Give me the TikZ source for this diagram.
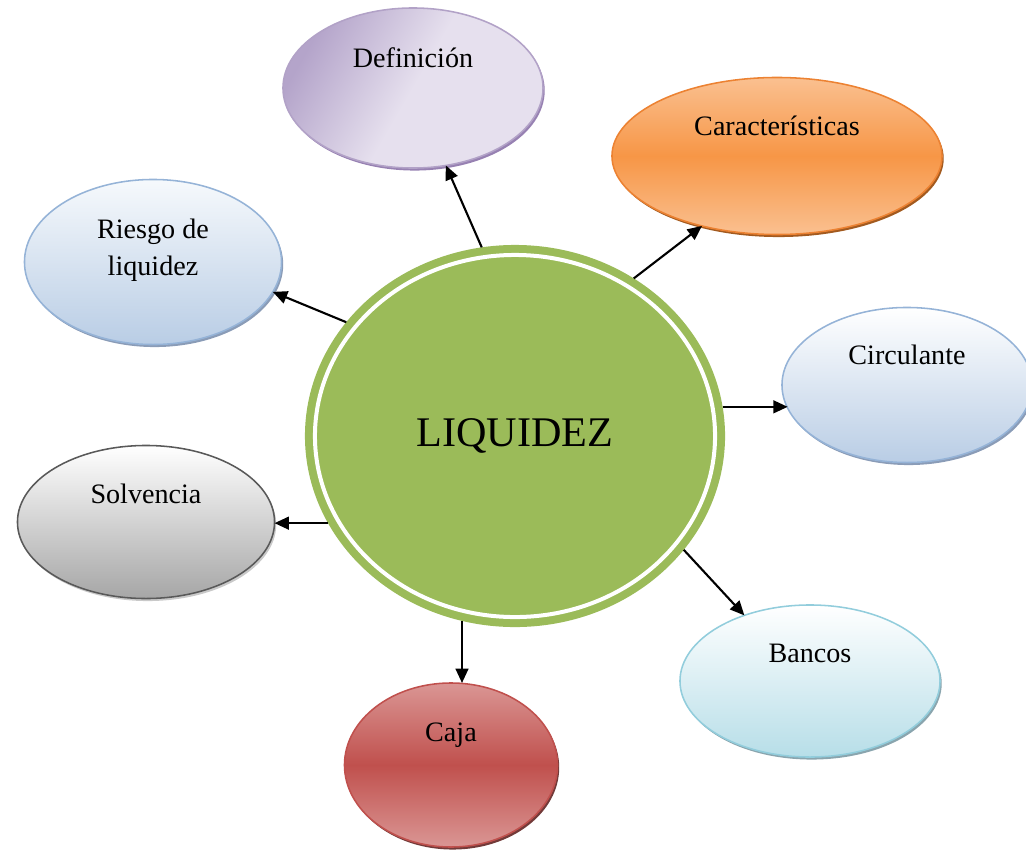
\documentclass[tikz,border=0pt]{standalone}
\usepackage{fontspec}
\setmainfont{Liberation Serif}
\usetikzlibrary{shapes.geometric,shadows,arrows.meta}
\definecolor{liqgreen}{RGB}{155,187,89}
\definecolor{defline}{RGB}{178,162,199}
\definecolor{defdark}{RGB}{180,164,202}
\definecolor{deflight}{RGB}{230,224,238}
\definecolor{defshadow}{RGB}{140,115,170}
\definecolor{carline}{RGB}{236,130,50}
\definecolor{cartop}{RGB}{250,192,144}
\definecolor{carmid}{RGB}{247,150,70}
\definecolor{carshadow}{RGB}{152,72,7}
\definecolor{blueline}{RGB}{149,179,215}
\definecolor{bluetop}{RGB}{246,249,252}
\definecolor{bluebottom}{RGB}{185,205,229}
\definecolor{blueshadow}{RGB}{125,145,175}
\definecolor{solvline}{RGB}{89,89,89}
\definecolor{solvbottom}{RGB}{166,166,166}
\definecolor{solvshadow}{RGB}{195,195,195}
\definecolor{cajaline}{RGB}{192,80,77}
\definecolor{cajatop}{RGB}{218,150,148}
\definecolor{cajashadow}{RGB}{99,37,35}
\definecolor{bancline}{RGB}{146,205,220}
\definecolor{bancbottom}{RGB}{183,222,232}
\definecolor{bancshadow}{RGB}{125,155,165}
\begin{document}
\begin{tikzpicture}[x=0.025cm,y=-0.025cm,font=\fontsize{20}{26}\selectfont,
  bubble/.style={ellipse,inner sep=0pt,outer sep=0pt,draw,line width=1.1pt},
  shade under/.style={drop shadow={shadow xshift=1.2pt,shadow yshift=-1.8pt,fill=#1,opacity=0.9}},
  link/.style={-{Triangle[length=3.6mm,width=3.2mm]},line width=1.5pt}]
\useasboundingbox (0,0) rectangle (1026,849);
\node[ellipse,minimum width=10cm,minimum height=9.05cm,outer sep=0.25cm,fill=liqgreen,draw=liqgreen,double=white,double distance=0.1cm,line width=0.2cm,font=\fontsize{30}{36}\selectfont] (liq) at (515,436) {LIQUIDEZ};

\node[bubble,minimum width=6.5cm,minimum height=4cm,draw=defline,left color=defdark,right color=deflight,middle color=deflight,shading angle=60,shade under=defshadow,label={[yshift=0.75cm]center:Definición}] (def) at (413,88) {};
\node[bubble,minimum width=8.25cm,minimum height=3.925cm,draw=carline,top color=cartop,bottom color=cartop,middle color=carmid,shade under=carshadow,label={[yshift=0.75cm]center:Características}] (car) at (777,156) {};
\node[bubble,minimum width=6.425cm,minimum height=4.125cm,draw=blueline,top color=bluetop,bottom color=bluebottom,shade under=blueshadow,label={[yshift=0.3cm,align=center]center:Riesgo de\\liquidez}] (risk) at (153,262) {};
\node[bubble,minimum width=6.25cm,minimum height=3.875cm,draw=blueline,top color=white,bottom color=bluebottom,shade under=blueshadow,label={[yshift=0.75cm]center:Circulante}] (circ) at (907,385) {};
\node[bubble,minimum width=6.425cm,minimum height=3.825cm,draw=solvline,top color=white,bottom color=solvbottom,shade under=solvshadow,label={[yshift=0.7cm]center:Solvencia}] (solv) at (146,522) {};
\node[bubble,minimum width=5.325cm,minimum height=4.1cm,draw=cajaline,top color=cajatop,bottom color=cajatop,middle color=cajaline,shade under=cajashadow,label={[yshift=0.75cm]center:Caja}] (caja) at (451,765) {};
\node[bubble,minimum width=6.5cm,minimum height=3.8cm,draw=bancline,top color=white,bottom color=bancbottom,shade under=bancshadow,label={[yshift=0.68cm]center:Bancos}] (banc) at (810,681) {};

\draw[link] (liq.100) -- (def.-67);
\draw[link] (liq.53) -- (car.223);
\draw[link] (liq.146) -- (risk.-14);
\draw[link] (liq.8) -- (liq.8 -| circ.191);
\draw[link] (liq.205) -- (liq.205 -| solv.east);
\draw[link] (liq.254) -- (liq.254 |- caja.north);
\draw[link] (liq.-34) -- (banc.135);
\end{tikzpicture}
\end{document}
